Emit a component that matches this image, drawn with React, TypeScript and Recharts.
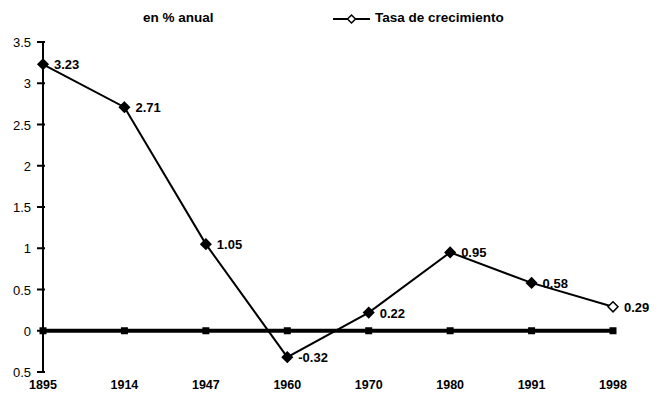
import { LineChart, Line, XAxis, YAxis, Legend, LabelList } from "recharts";

const years = ["1895", "1914", "1947", "1960", "1970", "1980", "1991", "1998"];
const growth = [3.23, 2.71, 1.05, -0.32, 0.22, 0.95, 0.58, 0.29];
const baseline = [0, 0, 0, 0, 0, 0, 0, 0];
const yTicks = [-0.5, 0, 0.5, 1, 1.5, 2, 2.5, 3, 3.5];
const yTickLabels = ["0.5", "0", "0.5", "1", "1.5", "2", "2.5", "3", "3.5"];

const chartData = years.map((year, i) => ({
  year,
  growth: growth[i],
  base: baseline[i],
}));

const FONT = "'Liberation Sans', Arial, sans-serif";

const Diamond = (props: any) => {
  const { cx, cy, index } = props;
  if (cx == null || cy == null) return null;
  const r = 5;
  const hollow = index === years.length - 1;
  return (
    <path
      d={`M${cx},${cy - r} L${cx + r},${cy} L${cx},${cy + r} L${cx - r},${cy} Z`}
      fill={hollow ? "#fff" : "#000"}
      stroke="#000"
      strokeWidth={1.5}
    />
  );
};

const SquareDot = (props: any) => {
  const { cx, cy } = props;
  if (cx == null || cy == null) return null;
  return <rect x={cx - 3.5} y={cy - 3.5} width={7} height={7} fill="#000" />;
};

const YTick = (props: any) => {
  const { x, y, payload, index } = props;
  const ax = x + 6;
  return (
    <g>
      <line x1={ax - 4} x2={ax + 4} y1={y} y2={y} stroke="#000" strokeWidth={2} />
      <text x={ax - 10} y={y + 5} textAnchor="end" fontSize={13} fontFamily={FONT} fill="#000">
        {yTickLabels[index] ?? payload.value}
      </text>
    </g>
  );
};

const ValueLabel = (props: any) => {
  const { x, y, value } = props;
  return (
    <text x={x + 11} y={y + 5} fontSize={13} fontWeight="bold" fontFamily={FONT} fill="#000">
      {value}
    </text>
  );
};

const TopLegend = () => (
  <div style={{ position: "relative", width: 656, height: 26, fontFamily: FONT, fontWeight: "bold", fontSize: 13.5 }}>
    <span style={{ position: "absolute", left: 143, top: 6 }}>en % anual</span>
    <svg style={{ position: "absolute", left: 330, top: 7 }} width={44} height={16}>
      <line x1={3} x2={40} y1={8} y2={8} stroke="#000" strokeWidth={2} />
      <path d="M21.5,4 L25.5,8 L21.5,12 L17.5,8 Z" fill="#fff" stroke="#000" strokeWidth={1.5} />
    </svg>
    <span style={{ position: "absolute", left: 375, top: 6 }}>Tasa de crecimiento</span>
  </div>
);

export default function App() {
  return (
    <div style={{ position: "absolute", left: 0, top: 0, width: 656, height: 400, background: "#fff" }}>
      <LineChart width={656} height={400} data={chartData} margin={{ top: 42, right: 43, left: 0, bottom: 0 }}>
        <XAxis
          dataKey="year"
          height={28}
          axisLine={false}
          tickLine={false}
          tickMargin={2}
          tick={{ fontSize: 12.5, fontWeight: "bold", fontFamily: FONT, fill: "#000" }}
          interval={0}
        />
        <YAxis
          width={43}
          domain={[-0.5, 3.5]}
          ticks={yTicks}
          interval={0}
          axisLine={{ stroke: "#000", strokeWidth: 2 }}
          tickLine={false}
          tick={<YTick />}
        />
        <Legend
          layout="horizontal"
          verticalAlign="middle"
          align="center"
          wrapperStyle={{ top: 4, left: 0, width: 656 }}
          content={() => <TopLegend />}
        />
        <Line
          dataKey="base"
          stroke="#000"
          strokeWidth={4}
          dot={<SquareDot />}
          activeDot={false}
          legendType="none"
          isAnimationActive={false}
        />
        <Line
          dataKey="growth"
          name="Tasa de crecimiento"
          stroke="#000"
          strokeWidth={2}
          dot={<Diamond />}
          activeDot={false}
          isAnimationActive={false}
        >
          <LabelList dataKey="growth" content={<ValueLabel />} />
        </Line>
      </LineChart>
    </div>
  );
}
